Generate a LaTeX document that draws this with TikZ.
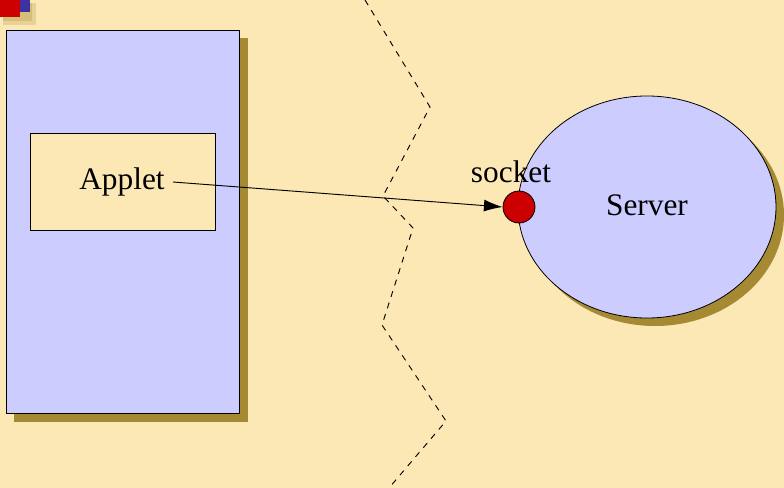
\documentclass[tikz,border=0pt]{standalone}
\usepackage{fontspec}
\setmainfont{Liberation Serif}
\usetikzlibrary{arrows.meta,shapes.geometric}
\definecolor{bg}{RGB}{252,232,181}
\definecolor{boxfill}{RGB}{204,204,255}
\definecolor{shadowcol}{RGB}{166,138,51}
\definecolor{sockred}{RGB}{204,0,0}
\definecolor{iconblue}{RGB}{60,50,160}
\begin{document}
\begin{tikzpicture}[x=0.75pt,y=-0.75pt,
  lbl/.style={font=\fontsize{23.5}{26}\selectfont, inner sep=0pt},
  panel/.style={draw=black, fill=boxfill, line width=0.8pt},
  shadowbox/.style={fill=shadowcol, draw=none},
  fence/.style={line width=0.7pt, dash pattern=on 4.5pt off 4.5pt}]
\useasboundingbox (0,0) rectangle (784,488);
\fill[bg] (0,0) rectangle (784,488);
% corner icon
\fill[shadowcol!25!bg] (3,3) rectangle (36,25);
\fill[shadowcol!45!bg] (3,3) rectangle (32,21);
\fill[iconblue] (-10,-10) rectangle (30,12);
\fill[sockred] (-10,-10) rectangle (20,17);
% applet window
\fill[shadowbox] (14,38) rectangle (248,422);
\node[panel, minimum width=233*0.75pt, minimum height=383*0.75pt, anchor=north west, inner sep=0pt] (win) at (6,30) {};
\node[draw=black, fill=bg, line width=0.6pt, minimum width=185*0.75pt, minimum height=97*0.75pt, anchor=north west, inner sep=0pt] (appbox) at (30,133) {};
\node[lbl] (applet) at (122,182) {Applet};
% fence
\coordinate (f0) at (365,0);
\coordinate (f1) at (430,107);
\coordinate (f2) at (383,196);
\coordinate (f3) at (413,228);
\coordinate (f4) at (382,325);
\coordinate (f5) at (446,421);
\coordinate (f6) at (389,488);
\draw[fence] (f0) -- (f1) -- (f2) -- (f3) -- (f4) -- (f5) -- (f6);
% server
\fill[shadowcol] (655,215) ellipse [x radius=129, y radius=111];
\node[draw=black, fill=boxfill, line width=0.6pt, ellipse, minimum width=258*0.75pt, minimum height=222*0.75pt, inner sep=0pt] (server) at (647,207) {};
\node[lbl] (servertxt) at (647,205) {Server};
% socket
\node[circle, draw=black, fill=sockred, line width=0.6pt, minimum size=32*0.75pt, inner sep=0pt] (sock) at (519,207) {};
\node[lbl] (socktxt) at (511,172) {socket};
\draw[-{Latex[length=14pt,width=9pt]}, line width=0.7pt] ([xshift=6pt]applet.east) -- (sock.west);
\end{tikzpicture}
\end{document}
